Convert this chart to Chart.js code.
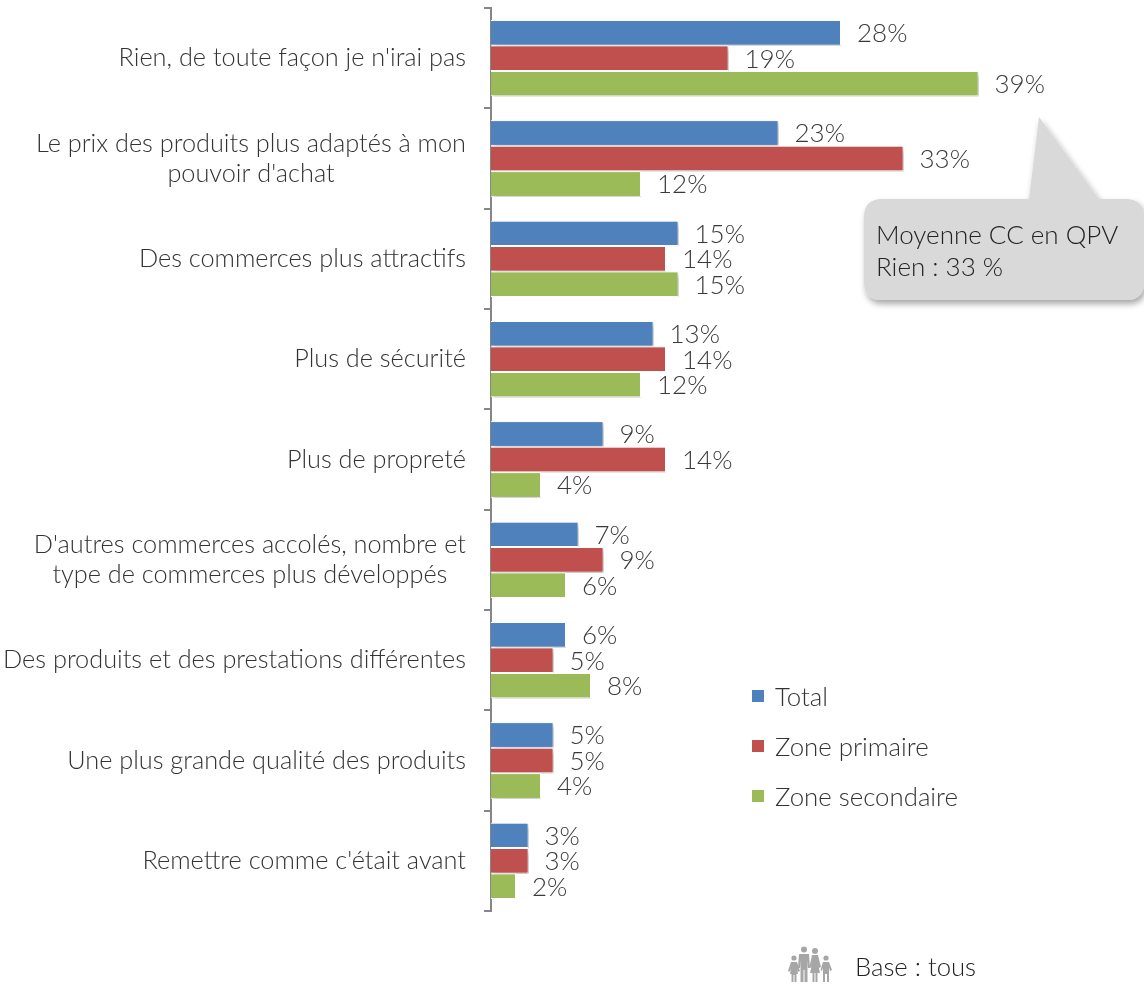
<!DOCTYPE html>
<html lang="fr">
<head>
<meta charset="utf-8">
<title>Attentes</title>
<script src="https://cdn.jsdelivr.net/npm/chart.js@4"></script>
<style>
    html, body { margin: 0; padding: 0; background: #fff; }
    #wrap { position: relative; width: 1144px; height: 987px; overflow: hidden; font-family: Lato, sans-serif; font-weight: 300; color: #333; }
    #wrap canvas { position: absolute; left: 0; top: 0; }
    .legend-row { position: absolute; left: 752px; height: 30px; line-height: 30px; font-size: 25.8px; white-space: nowrap; }
    .legend-row i { position: absolute; left: 0; top: 9px; width: 12px; height: 12px; }
    .legend-row span { position: absolute; left: 23px; }
    #bulle { position: absolute; left: 0; top: 0; }
    #bulle-text { position: absolute; left: 876px; top: 218px; font-size: 26px; line-height: 32px; color: #222; white-space: nowrap; }
    #base { position: absolute; left: 855px; top: 950px; font-size: 25.7px; line-height: 32px; color: #222; white-space: nowrap; }
    #famille { position: absolute; left: 786px; top: 945px; }
</style>
</head>
<body>
<div id="wrap">
    <canvas id="chart" width="1144" height="987"></canvas>

    <!-- bulle "Moyenne CC" -->
    <svg id="bulle" width="1144" height="987">
        <defs>
            <filter id="ombre" x="-10%" y="-10%" width="120%" height="125%">
                <feDropShadow dx="2" dy="4" stdDeviation="3" flood-color="#000" flood-opacity="0.35"/>
            </filter>
        </defs>
        <path filter="url(#ombre)" fill="#d9d9d9" d="M882 199 H1029 L1039 117 L1099 199 H1126 Q1144 199 1144 217 V282 Q1144 300 1126 300 H882 Q864 300 864 282 V217 Q864 199 882 199 Z"/>
    </svg>
    <div id="bulle-text">Moyenne CC en QPV<br>Rien : 33 %</div>

    <div id="legende"></div>

    <!-- petite famille a cote de la base -->
    <svg id="famille" width="50" height="40" fill="#a6a6a6">
        <circle cx="8" cy="13" r="2.6"/><path d="M5 17 H11 L14 26 L12 27 L11 24 L12 29 H10.5 V37 H8.5 V30 H7.5 V37 H5.5 V29 H4 L5 24 L3.5 27 L2 26 Z"/>
        <circle cx="18" cy="4.5" r="3"/><path d="M13 9 H23 L24 23 H22 L21.5 15 V37 H18.5 V25 H17.5 V37 H14.5 V15 L14 23 H12 Z"/>
        <circle cx="29" cy="6" r="3"/><path d="M26 10 H32 L35 22 L33 23 L31.5 17 L34 28 H31.5 V37 H29.5 V28 H28.5 V37 H26.5 V28 H24 L26.5 17 L25 23 L23.5 22 Z"/>
        <circle cx="40" cy="13" r="2.6"/><path d="M37 17 H43 L46 25 L44 26 L43 22.5 V37 H41 V29 H39 V37 H37 V22.5 L36 26 L34.5 25 Z"/>
    </svg>
    <div id="base">Base : tous</div>
</div>

<script>
document.addEventListener("DOMContentLoaded", () => {
    // ==================================================
    // Donnees
    // ==================================================
    const categories = [
        "Rien, de toute façon je n'irai pas",
        ["Le prix des produits plus adaptés à mon", "pouvoir d'achat"],
        "Des commerces plus attractifs",
        "Plus de sécurité",
        "Plus de propreté",
        ["D'autres commerces accolés, nombre et", "type de commerces plus développés"],
        "Des produits et des prestations différentes",
        "Une plus grande qualité des produits",
        "Remettre comme c'était avant"
    ];
    const seriesNames = ["Total", "Zone primaire", "Zone secondaire"];
    const seriesColors = ["#4f81bd", "#c0504d", "#9bbb59"];
    const total = [28, 23, 15, 13, 9, 7, 6, 5, 3];
    const zonePrimaire = [19, 33, 14, 14, 14, 9, 5, 5, 3];
    const zoneSecondaire = [39, 12, 15, 12, 4, 6, 8, 4, 2];
    const seriesValues = [total, zonePrimaire, zoneSecondaire];

    const FONT = "Lato, sans-serif";

    // Ombre portee : une premiere passe de toutes les barres, recouverte ensuite par le rendu normal
    const barShadow = {
        id: "barShadow",
        beforeDatasetsDraw(chart) {
            const ctx = chart.ctx;
            ctx.save();
            ctx.shadowColor = "rgba(0,0,0,0.6)";
            ctx.shadowBlur = 5;
            ctx.shadowOffsetX = 2;
            ctx.shadowOffsetY = 3;
            chart.getSortedVisibleDatasetMetas().forEach(meta => meta.controller.draw());
            ctx.restore();
        }
    };

    // Libelles de categories : calés a droite, lignes centrees entre elles
    const categoryLabels = {
        id: "categoryLabels",
        afterDraw(chart) {
            const ctx = chart.ctx;
            const scale = chart.scales.y;
            const right = 466;
            const lineHeight = 30;
            ctx.save();
            ctx.font = "300 25.3px " + FONT;
            ctx.fillStyle = "#333";
            ctx.textBaseline = "middle";
            ctx.textAlign = "center";
            categories.forEach((label, i) => {
                const lines = [].concat(label);
                const widest = Math.max(...lines.map(l => ctx.measureText(l).width));
                const y0 = scale.getPixelForTick(i) - (lines.length - 1) * lineHeight / 2;
                lines.forEach((line, k) => {
                    ctx.fillText(line, right - widest / 2, y0 + k * lineHeight);
                });
            });
            ctx.restore();
        }
    };

    // Valeur en % au bout de chaque barre, sur fond blanc
    const valueLabels = {
        id: "valueLabels",
        afterDatasetsDraw(chart) {
            const ctx = chart.ctx;
            ctx.save();
            ctx.font = "300 26px " + FONT;
            ctx.textBaseline = "middle";
            ctx.textAlign = "left";
            chart.data.datasets.forEach((ds, d) => {
                chart.getDatasetMeta(d).data.forEach((bar, i) => {
                    const txt = ds.data[i] + "%";
                    const x = bar.x + 16;
                    ctx.fillStyle = "#fff";
                    ctx.fillRect(x - 6, bar.y - 11, ctx.measureText(txt).width + 8, 22);
                });
            });
            chart.data.datasets.forEach((ds, d) => {
                chart.getDatasetMeta(d).data.forEach((bar, i) => {
                    ctx.fillStyle = "#3a3a3a";
                    ctx.fillText(ds.data[i] + "%", bar.x + 16, bar.y + 1);
                });
            });
            ctx.restore();
        }
    };

    new Chart(document.getElementById("chart"), {
        type: "bar",
        data: {
            labels: categories,
            datasets: seriesNames.map((name, i) => ({
                label: name,
                data: seriesValues[i],
                backgroundColor: seriesColors[i],
                borderColor: "#fff",
                borderWidth: 1
            }))
        },
        options: {
            indexAxis: "y",
            responsive: false,
            animation: false,
            categoryPercentage: 0.76,
            barPercentage: 1,
            layout: { padding: { left: 0, right: 3, top: 8, bottom: 76 } },
            plugins: {
                legend: { display: false },
                tooltip: { enabled: false }
            },
            scales: {
                x: { display: false, min: 0, max: 52 },
                y: {
                    afterFit(scale) {
                        scale.width = 491;
                        scale.paddingTop = 0;
                        scale.paddingBottom = 0;
                    },
                    border: { color: "#868686", width: 2 },
                    grid: { drawOnChartArea: false, color: "#868686", lineWidth: 2, tickLength: 7 },
                    ticks: { display: false, autoSkip: false }
                }
            }
        },
        plugins: [barShadow, categoryLabels, valueLabels]
    });

    // Legende a droite, construite depuis les series
    const legendTops = [681, 731, 781];
    const legende = document.getElementById("legende");
    seriesNames.forEach((name, i) => {
        const row = document.createElement("div");
        row.className = "legend-row";
        row.style.top = legendTops[i] + "px";
        row.innerHTML = `<i style="background:${seriesColors[i]}"></i><span>${name}</span>`;
        legende.appendChild(row);
    });
});
</script>
</body>
</html>
